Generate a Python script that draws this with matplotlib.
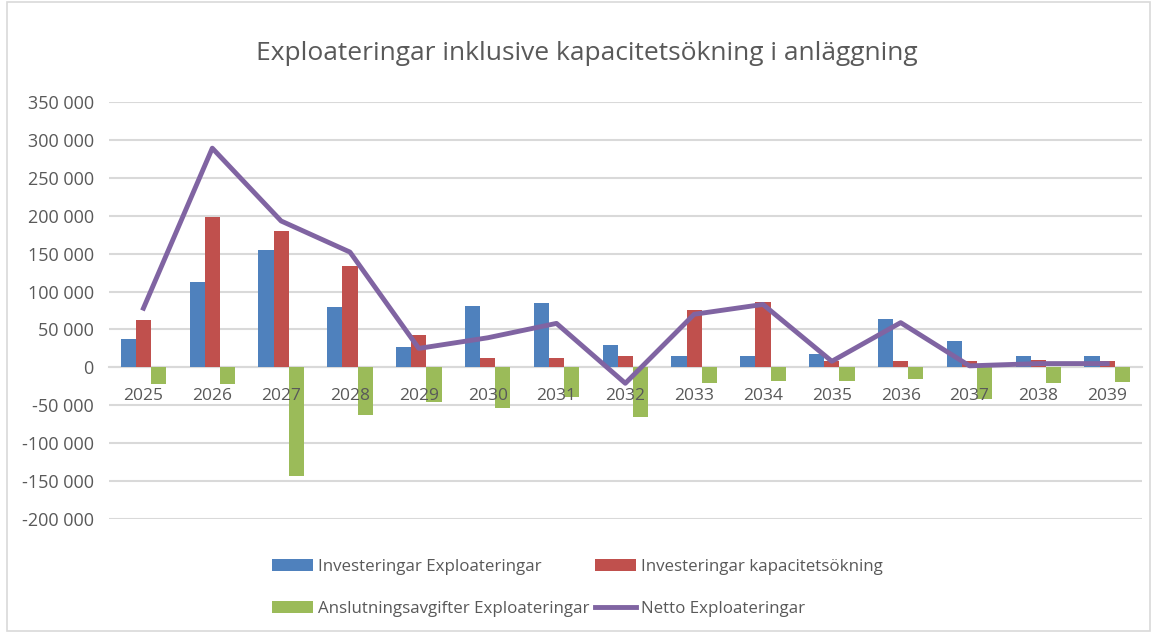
import matplotlib
matplotlib.use("Agg")
import matplotlib.pyplot as plt
from matplotlib.patches import Rectangle
from matplotlib.ticker import FuncFormatter
import numpy as np

plt.rcParams['font.family'] = ['Open Sans', 'DejaVu Sans']

years = [str(y) for y in range(2025, 2040)]
inv_exploatering = [38000, 112000, 155000, 80000, 27000, 81000, 85000, 29000, 15000, 15000, 17000, 64000, 35000, 15000, 15000]
inv_kapacitet = [63000, 198000, 180000, 134000, 43000, 12000, 12000, 15000, 75000, 86000, 9000, 9000, 9000, 10000, 9000]
anslutning = [-22000, -22000, -143000, -63000, -45000, -54000, -39000, -66000, -20000, -18000, -18000, -15000, -42000, -20000, -19000]
netto = [78000, 289000, 193000, 152000, 25000, 39000, 58000, -21000, 70000, 83000, 8000, 59000, 2000, 5000, 5000]

fig = plt.figure(figsize=(11.55, 6.33), dpi=100)
ax = fig.add_axes([0.0944, 0.180, 0.894, 0.659])

x = np.arange(len(years))
w = 0.22
b1 = ax.bar(x - w, inv_exploatering, w, color='#4F81BD', zorder=3)
b2 = ax.bar(x, inv_kapacitet, w, color='#C0504D', zorder=3)
b3 = ax.bar(x + w, anslutning, w, color='#9BBB59', zorder=3)
ln, = ax.plot(x, netto, color='#8064A2', lw=3.5, zorder=4, solid_joinstyle='round')

ax.set_xlim(-0.5, len(years) - 0.5)
ax.set_ylim(-200000, 350000)
ax.set_yticks(np.arange(-200000, 350001, 50000))
ax.yaxis.set_major_formatter(FuncFormatter(lambda v, p: f"{v:,.0f}".replace(",", " ")))
ax.grid(axis='y', color='#D9D9D9', lw=1.5, zorder=0)
for s in ['top', 'right', 'left']:
    ax.spines[s].set_visible(False)
ax.spines['bottom'].set_position(('data', 0))
ax.spines['bottom'].set_color('#D9D9D9')
ax.spines['bottom'].set_linewidth(1.5)
ax.set_xticks(x)
ax.set_xticklabels([])
ax.tick_params(axis='x', length=0)
ax.tick_params(axis='y', length=0, pad=11, labelsize=13, colors='#595959')

# year labels drawn on top of the bars, like in Excel
for xi, yr in zip(x, years):
    ax.annotate(yr, (xi, 0), xytext=(0, -15), textcoords='offset points',
                ha='center', va='top', fontsize=12.5, color='#595959', zorder=6)

fig.text(0.508, 0.915, 'Exploateringar inklusive kapacitetsökning i anläggning',
         ha='center', va='center', fontsize=19, color='#595959')

# column-major fill: col 1 = blue, green; col 2 = red, line
leg = fig.legend([b1, b3, b2, ln],
                 ['Investeringar Exploateringar', 'Anslutningsavgifter Exploateringar',
                  'Investeringar kapacitetsökning', 'Netto Exploateringar'],
                 loc='center', bbox_to_anchor=(0.5, 0.071), ncol=2, frameon=False,
                 fontsize=12.2, handlelength=2.43, handleheight=0.71, handletextpad=0.3,
                 columnspacing=0.3, labelspacing=1.5, labelcolor='#595959')

fig.patches.append(Rectangle((0.006, 0.003), 0.99, 0.994, transform=fig.transFigure,
                             fill=False, edgecolor='#D9D9D9', lw=1.2))

fig.savefig('out.png', dpi=100)
